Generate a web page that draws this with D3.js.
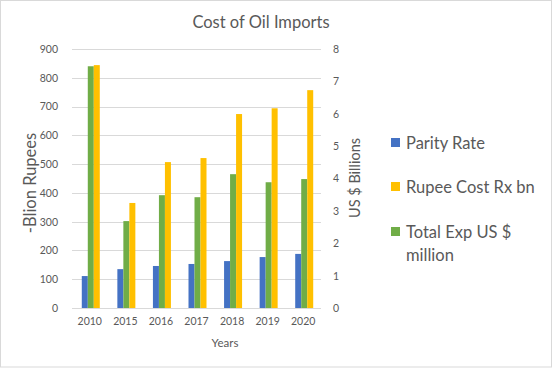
<!DOCTYPE html>
<html><head><meta charset="utf-8">
<script src="https://cdn.jsdelivr.net/npm/d3@7"></script>
<style>body{margin:0;background:#fff}svg{display:block}text{font-family:Lato,"Open Sans",sans-serif}</style>
</head><body>
<svg id="c" width="553" height="382"></svg>
<script>
const years = ["2010","2015","2016","2017","2018","2019","2020"];
const seriesNames = ["Parity Rate","Total Exp US $ million","Rupee Cost Rx bn"];
const parityRate = [111,135,146,153,163,177,188];
const totalExp = [840,302,392,385,465,437,448];
const rupeeCost = [844,365,507,521,674,694,757];
const leftTicks = [0,100,200,300,400,500,600,700,800,900];
const rightTicks = [0,1,2,3,4,5,6,7,8];
const colors = {"Parity Rate":"#4472C4","Total Exp US $ million":"#70AD47","Rupee Cost Rx bn":"#FFC000"};
const legendOrder = ["Parity Rate","Rupee Cost Rx bn","Total Exp US $ million"];
const values = {"Parity Rate":parityRate,"Total Exp US $ million":totalExp,"Rupee Cost Rx bn":rupeeCost};

const svg = d3.select("#c");
svg.append("rect").attr("x",0.5).attr("y",0.5).attr("width",551).attr("height",366.5)
  .attr("fill","#fff").attr("stroke","#d9d9d9");

const L=72,R=321,T=49,B=308;
const x = d3.scaleBand().domain(years).range([L,R]);
const xi = d3.scaleBand().domain(seriesNames).range([0,18]);
const yL = d3.scaleLinear().domain([0,900]).range([B,T]);
const yR = d3.scaleLinear().domain([0,8]).range([B,T]);

// gridlines
svg.append("g").selectAll("line").data(leftTicks).join("line")
  .attr("x1",L).attr("x2",R).attr("y1",d=>Math.round(yL(d))+0.5).attr("y2",d=>Math.round(yL(d))+0.5)
  .attr("stroke","#d9d9d9").attr("stroke-width",1);

// bars
seriesNames.forEach(s=>{
  svg.append("g").selectAll("rect").data(years).join("rect")
    .attr("x",(d)=>x(d)+x.bandwidth()/2-8+xi(s))
    .attr("width",xi.bandwidth())
    .attr("y",(d,i)=>yL(values[s][i]))
    .attr("height",(d,i)=>B-yL(values[s][i]))
    .attr("fill",colors[s]);
});

// axes
const gl = svg.append("g").attr("transform",`translate(${L-14},0)`)
  .call(d3.axisLeft(yL).tickValues(leftTicks).tickSize(0).tickPadding(0));
const gr = svg.append("g").attr("transform",`translate(${R+12},0)`)
  .call(d3.axisRight(yR).tickValues(rightTicks).tickSize(0).tickPadding(0));
const gb = svg.append("g").attr("transform",`translate(0,${B+8})`)
  .call(d3.axisBottom(x).tickSize(0).tickPadding(0));
[gl,gr,gb].forEach(g=>{g.select(".domain").remove();
  g.selectAll("text").attr("fill","#595959").style("font-size","10.5px").style("font-family","Lato, 'Open Sans', sans-serif");});
gb.selectAll("text").attr("dy","0.9em");

// titles
svg.append("text").attr("x",261).attr("y",28).attr("text-anchor","middle")
  .attr("fill","#595959").style("font-size","16.5px").text("Cost of Oil Imports");
svg.append("text").attr("x",225).attr("y",347).attr("text-anchor","middle")
  .attr("fill","#595959").style("font-size","11.5px").text("Years");
svg.append("text").attr("transform","translate(36,183) rotate(-90)").attr("text-anchor","middle")
  .attr("fill","#595959").style("font-size","16.5px").text("-Blion Rupees");
svg.append("text").attr("transform","translate(360,178) rotate(-90)").attr("text-anchor","middle")
  .attr("fill","#595959").style("font-size","14.5px").text("US $ Billions");

// legend
const lg = svg.append("g");
const ly = [143,187,232];
legendOrder.forEach((s,i)=>{
  lg.append("rect").attr("x",391).attr("y",ly[i]-5).attr("width",9).attr("height",9).attr("fill",colors[s]);
});
const lt = [["Parity Rate"],["Rupee Cost Rx bn"],["Total Exp US $","million"]];
lt.forEach((lines,i)=>{
  lines.forEach((t,j)=>{
    lg.append("text").attr("x",406).attr("y",ly[i]+5.5+j*23).attr("fill","#595959")
      .style("font-size","16.5px").text(t);
  });
});
</script>
</body></html>
